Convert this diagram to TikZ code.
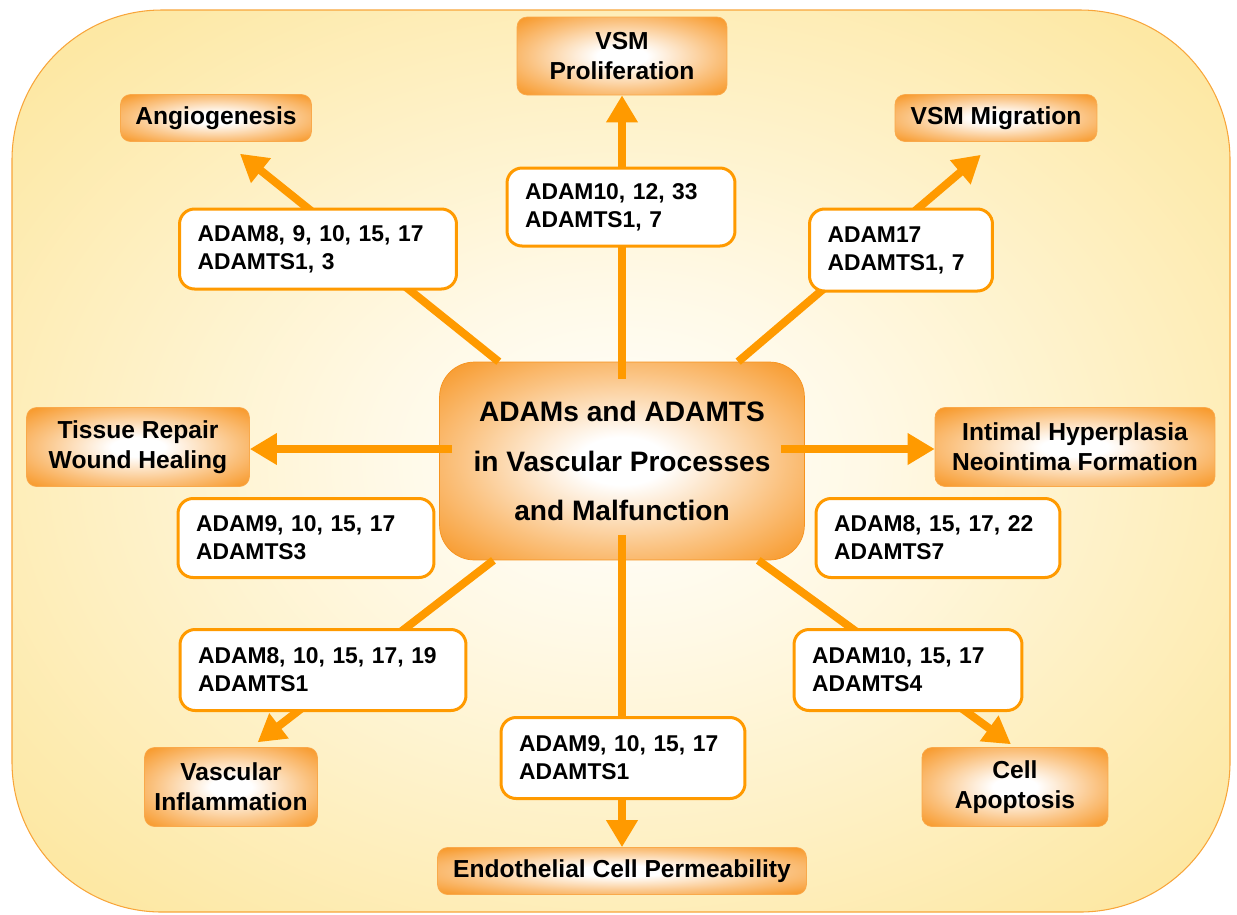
\documentclass[tikz,border=0pt]{standalone}
\usepackage{fontspec}
\setmainfont{Liberation Sans}
\usetikzlibrary{arrows.meta,calc}

\definecolor{arrowc}{HTML}{FF9A00}
\definecolor{boxorange}{HTML}{F7931E}
\definecolor{paperyellow}{HTML}{FDE8A4}
\definecolor{papercream}{HTML}{FFF9E6}
\definecolor{paperedge}{HTML}{F8A53A}

\pgfdeclareradialshading{glow}{\pgfpoint{0bp}{0bp}}{color(0bp)=(white); color(6bp)=(white); color(22bp)=(boxorange!55!white); color(36bp)=(boxorange); color(50bp)=(boxorange)}
\pgfdeclareradialshading{paper}{\pgfpoint{0bp}{0bp}}{color(0bp)=(white); color(10bp)=(papercream); color(32bp)=(paperyellow); color(50bp)=(paperyellow)}

\pgfdeclarelayer{back}
\pgfdeclarelayer{mid}
\pgfsetlayers{back,mid,main}

\begin{document}
\begin{tikzpicture}[x=0.02cm,y=-0.02cm,
    flow/.style={draw=arrowc,line width=0.16cm,-{Triangle[length=0.54cm,width=0.6cm]}},
    hubbox/.style={rounded corners=0.7cm,shade,shading=glow,draw=boxorange,thin,align=center,
      minimum width=7.3cm,minimum height=3.96cm,font=\bfseries\fontsize{16}{28}\selectfont},
    goal/.style={rounded corners=0.2cm,shade,shading=glow,draw=boxorange!80!white,thin,
      align=center,inner sep=0pt,font=\bfseries\fontsize{14}{17}\selectfont},
    enz/.style={rounded corners=0.3cm,fill=white,draw=arrowc,line width=0.06cm,align=left,
      inner xsep=0.36cm,inner ysep=0pt,text width=#1,font=\bfseries\fontsize{13}{16}\selectfont}]
  \useasboundingbox (0,0) rectangle (1237,914);

  \begin{pgfonlayer}{back}
    \path[shade,shading=paper,draw=paperedge,semithick,rounded corners=3cm] (12,10) rectangle (1230,912);
    \node[hubbox] (hub) at (622,461) {ADAMs and ADAMTS\\in Vascular Processes\\and Malfunction};
  \end{pgfonlayer}

  % outcomes
  \node[goal,minimum width=4.2cm,minimum height=1.56cm]  (prolif) at (622,56)  {VSM\\Proliferation};
  \node[goal,minimum width=3.82cm,minimum height=0.94cm] (angio)  at (216,118) {Angiogenesis};
  \node[goal,minimum width=4.04cm,minimum height=0.94cm] (migr)   at (996,118) {VSM Migration};
  \node[goal,minimum width=4.46cm,minimum height=1.58cm] (repair) at (138,447) {Tissue Repair\\Wound Healing};
  \node[goal,minimum width=5.6cm,minimum height=1.58cm]  (hyper)  at (1075,447) {Intimal Hyperplasia\\Neointima Formation};
  \node[goal,minimum width=3.46cm,minimum height=1.58cm] (inflam) at (231,787) {Vascular\\Inflammation};
  \node[goal,minimum width=3.72cm,minimum height=1.58cm] (apop)   at (1015,787) {Cell\\Apoptosis};
  \node[goal,minimum width=7.38cm,minimum height=0.94cm] (perm)   at (622,871) {Endothelial Cell Permeability};

  % enzymes
  \node[enz=3.84cm,minimum height=1.56cm] (eprolif) at (621,207) {ADAM10, 12, 33\\ADAMTS1, 7};
  \node[enz=4.82cm,minimum height=1.6cm]  (eangio)  at (318,249) {ADAM8, 9, 10, 15, 17\\ADAMTS1, 3};
  \node[enz=2.94cm,minimum height=1.64cm] (emigr)   at (901,250) {ADAM17\\ADAMTS1, 7};
  \node[enz=4.4cm,minimum height=1.58cm]  (erepair) at (306,538) {ADAM9, 10, 15, 17\\ADAMTS3};
  \node[enz=4.16cm,minimum height=1.58cm] (ehyper)  at (938,538) {ADAM8, 15, 17, 22\\ADAMTS7};
  \node[enz=5.0cm,minimum height=1.62cm]  (einflam) at (323,670) {ADAM8, 10, 15, 17, 19\\ADAMTS1};
  \node[enz=3.84cm,minimum height=1.62cm] (eapop)   at (908,670) {ADAM10, 15, 17\\ADAMTS4};
  \node[enz=4.16cm,minimum height=1.62cm] (eperm)   at (623,758) {ADAM9, 10, 15, 17\\ADAMTS1};

  \begin{pgfonlayer}{mid}
    \draw[flow] ($(hub.north)+(0,17)$) -- (prolif);
    \draw[flow] ($(hub.south)-(0,25)$) -- (perm);
    \draw[flow] ($(hub.west |- repair)+(13,2)$) -- ($(repair.east)+(0,2)$);
    \draw[flow] ($(hub.east |- hyper)-(24,-2)$) -- ($(hyper.west)+(0,2)$);
    \draw[flow,shorten >=0.38cm] (hub) -- (angio.-69);
    \draw[flow,shorten >=0.4cm]  (hub) -- (migr.south);
    \draw[flow,shorten >=0.16cm] (hub) -- (inflam.63);
    \draw[flow,shorten >=0.1cm]  (hub) -- (apop.north);
  \end{pgfonlayer}
\end{tikzpicture}
\end{document}
